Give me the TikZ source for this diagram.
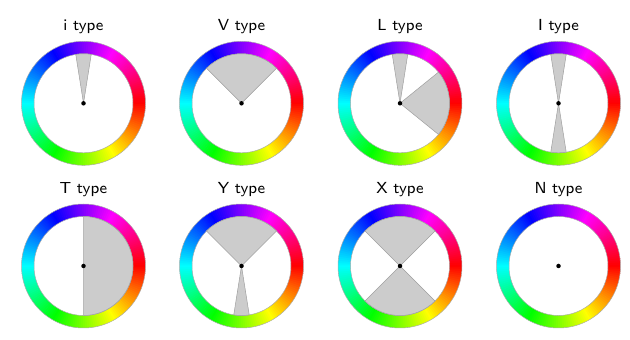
\documentclass[tikz,border=0pt]{standalone}
\usepackage{tikz}
\usepackage{xcolor}
\usetikzlibrary{positioning,calc}

\begin{document}
\begin{tikzpicture}[
    x=1pt, y=1pt,
    title/.style={font=\sffamily\fontsize{8}{10}\selectfont, scale=2, anchor=base},
    hub/.style={circle, fill=black, inner sep=0pt, minimum size=4.5pt},
    wedge/.style={fill=gray!40, draw=gray!75, line width=0.5pt},
    rim/.style={draw=gray!65, line width=0.5pt}
  ]
    \useasboundingbox (0,0) rectangle (630,340);

    % centres of the eight wheels
    \foreach \name/\x/\y in {i/83.5/236.7, V/241.5/236.7, L/400/236.7, I/558.5/236.7,
                             T/83.5/74, Y/241.5/74, X/400/74, N/558.5/74}
      \coordinate (c\name) at (\x,\y);

    % hue rings
    \foreach \name in {i,V,L,I,T,Y,X,N} {
      \begin{scope}[shift={(c\name)}]
        \foreach \h in {0,2,...,358} {
          \definecolor{ringc}{Hsb}{\h,1,1}
          \fill[ringc] (-\h+1.3:49.5) arc[start angle=-\h+1.3, end angle=-\h-1.3, radius=49.5]
            -- (-\h-1.3:62) arc[start angle=-\h-1.3, end angle=-\h+1.3, radius=62] -- cycle;
        }
        \draw[rim] (0,0) circle[radius=49.5] (0,0) circle[radius=62];
      \end{scope}
    }

    % grey sectors
    \foreach \name/\a/\b in {i/81/99, V/45/135, L/81/99, L/-39/39, I/81/99, I/261/279,
                             T/-90/90, Y/45/135, Y/261/279, X/45/135, X/225/315}
      \filldraw[wedge] (c\name) -- ++(\a:49.5) arc[start angle=\a, end angle=\b, radius=49.5] -- cycle;

    \foreach \name in {i,V,L,I,T,Y,X,N}
      \node[hub] (h\name) at (c\name) {};

    \foreach \name in {i,V,L,I,T,Y,X,N}
      \node[title] (t\name) at ($(c\name)+(0,72.5)$) {\name{} type};
  \end{tikzpicture}
\end{document}
